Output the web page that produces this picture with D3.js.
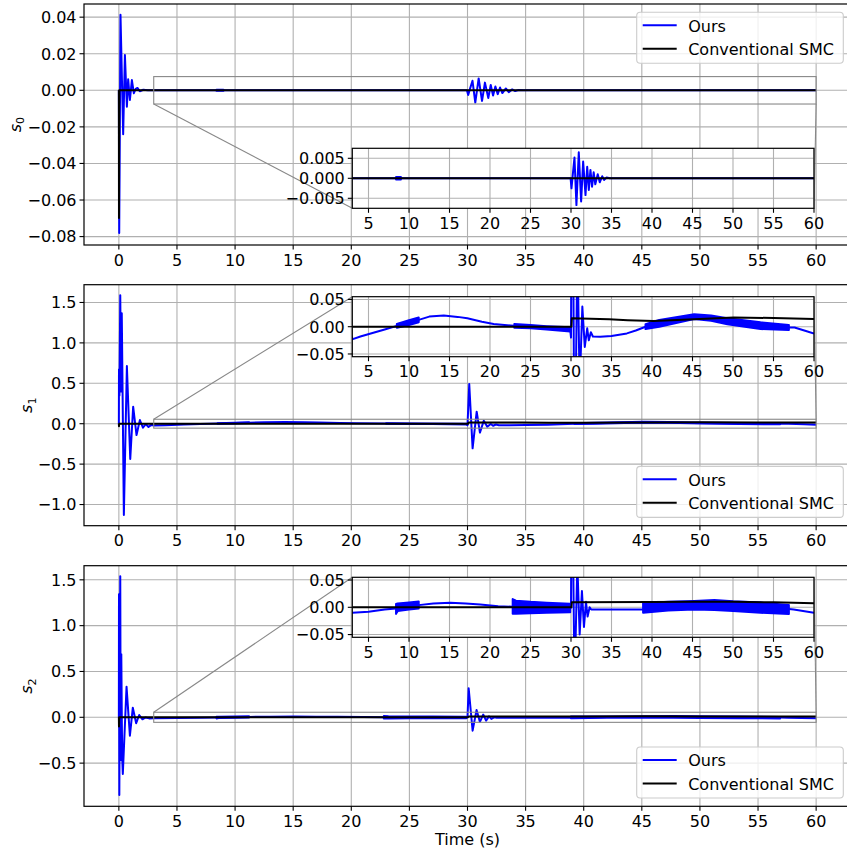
<!DOCTYPE html>
<html><head><meta charset="utf-8">
<script src="https://cdn.jsdelivr.net/npm/d3@7"></script>
<style>body{margin:0;background:#fff}svg{display:block;font-family:"DejaVu Sans",sans-serif}</style>
</head><body><svg id="c" width="847" height="853"></svg>
<script>
// ---------- data ----------
const seriesNames = ["Ours", "Conventional SMC"];
const xTicksMain = [0,5,10,15,20,25,30,35,40,45,50,55,60];
const xTicksInset = [5,10,15,20,25,30,35,40,45,50,55,60];
const yTicks0 = [-0.08,-0.06,-0.04,-0.02,0,0.02,0.04];
const yTicks1 = [-1.0,-0.5,0,0.5,1.0,1.5];
const yTicks2 = [-0.5,0,0.5,1.0,1.5];
const yTicksInset0 = [-0.005,0,0.005];
const yTicksInset1 = [-0.05,0,0.05];
const yTicksInset2 = [-0.05,0,0.05];
const yLabelSubs = ["0","1","2"];
const xLabel = "Time (s)";

// s0
const ours0 = [[0,0],[0.03,-0.078],[0.14,0.0413],[0.37,-0.024],[0.52,0.0193],[0.69,-0.009],[0.8,0.006],[0.95,-0.0053],[1.12,0.0056],[1.29,-0.0016],[1.45,0.0008],[1.6,0.0013],[1.8,-0.0005],[2.1,0.0003],[2.5,0],[29.95,0],[30.06,-0.0025],[30.2,0.0005],[30.43,0.0052],[30.67,-0.0067],[30.96,0.0065],[31.25,-0.0058],[31.5,0.0042],[31.79,-0.0042],[32.0,0.0029],[32.2,-0.0029],[32.4,0.0021],[32.6,-0.0021],[32.8,0.0015],[33.0,-0.0015],[33.3,0.001],[33.55,-0.001],[33.85,0.0005],[34.1,-0.0004],[34.4,0.0002],[34.8,0],[60,0]];
const smc0 = [[0,0],[0.01,-0.0698],[0.03,0],[60,0]];
const chatter0 = [[[8.4,-0.0003,0.0003],[9.0,-0.0003,0.0003]]];

// s1
const ours1 = [[0,0],[0.01,0.67],[0.05,0.35],[0.12,1.59],[0.19,0.4],[0.25,1.366],[0.43,-1.13],[0.69,0.714],[0.98,-0.437],[1.23,0.21],[1.52,-0.14],[1.81,0.046],[2.07,-0.05],[2.32,-0.005],[2.55,-0.04],[2.8,-0.015],[3.07,-0.0228],[4,-0.018],[5.6,-0.011],[7,-0.005],[8.5,0.0015],[10,0.0075],[11.2,0.0125],[12.5,0.0185],[14.3,0.0204],[16,0.018],[17.2,0.0155],[19,0.009],[20.45,0.005],[22.9,0.0018],[25,0],[27,-0.002],[29.9,-0.005],[30.0,-0.02],[30.15,0.49],[30.44,-0.305],[30.79,0.149],[31.07,-0.11],[31.4,0.037],[31.7,-0.037],[32.0,-0.003],[32.2,-0.025],[32.45,-0.01],[32.7,-0.018],[33.6,-0.0185],[35,-0.017],[36.9,-0.0123],[38,-0.007],[39.2,0.0],[40.9,0.006],[43,0.013],[45.2,0.0187],[47.3,0.0157],[49.3,0.01],[51.5,0.006],[53.4,0.002],[55,0.0005],[56.9,-0.0015],[57.6,-0.0015],[59,-0.008],[60,-0.0127]];
const smc1 = [[0,0],[0.01,-0.03],[0.03,0],[30.05,0],[30.1,0.0155],[34.7,0.0136],[37,0.012],[40.2,0.0105],[45.2,0.0136],[50.1,0.0167],[55,0.016],[60,0.0142]];
const chatter1 = [
  [[8.5,-0.002,0.005],[10,0.003,0.012],[11.2,0.008,0.0167]],
  [[23,-0.002,0.005],[25,-0.003,0.003],[27,-0.005,0.001],[29.9,-0.009,-0.001]],
  [[39.2,-0.0043,0.0045],[40.9,0,0.0124],[45.2,0.0143,0.023],[47.3,0.0107,0.0206],[49.3,0.0045,0.0155],[53.4,-0.0043,0.008],[56.9,-0.0062,0.0031]]
];

// s2
const ours2 = [[0,0],[0.01,1.342],[0.04,-0.848],[0.12,1.54],[0.16,-0.466],[0.21,0.687],[0.26,-0.1],[0.29,-0.45],[0.34,-0.618],[0.66,0.334],[0.95,-0.2],[1.2,0.105],[1.49,-0.065],[1.75,0.025],[2.03,-0.022],[2.3,-0.002],[2.6,-0.012],[3,-0.01],[5,-0.008],[7,-0.004],[8.4,-0.002],[9.5,0.001],[11.2,0.004],[13,0.007],[15.1,0.0085],[17,0.007],[18.8,0.005],[21,0.002],[22.8,0.001],[26,-0.001],[29.9,-0.002],[30.0,0.0],[30.1,0.316],[30.44,-0.146],[30.78,0.08],[31.07,-0.05],[31.35,0.03],[31.6,-0.036],[31.85,0.01],[32.05,-0.017],[32.3,0.0],[32.5,-0.004],[38.9,-0.004],[42,0.002],[45.2,0.004],[47.7,0.004],[50,0.002],[53.4,-0.001],[56.9,-0.003],[57.5,-0.004],[60,-0.01]];
const smc2 = [[0,0],[0.01,-0.1],[0.03,0],[30.05,0],[30.1,0.0093],[40,0.0098],[45.2,0.0104],[50,0.01],[55,0.0092],[60,0.0074]];
const chatter2 = [
  [[8.4,-0.012,0.006],[8.6,-0.007,0.007],[10,-0.004,0.009],[11.2,-0.002,0.0105]],
  [[22.8,-0.012,0.015],[23.2,-0.012,0.012],[25,-0.011,0.01],[27,-0.01,0.0085],[29.9,-0.009,0.0065]],
  [[38.9,-0.01,0.0074],[42,-0.006,0.01],[45.2,-0.004,0.0117],[47.7,-0.005,0.0136],[50,-0.007,0.011],[53.4,-0.01,0.0086],[56.9,-0.0123,0.0043]]
];

// ---------- layout ----------
const BLUE = "#0000ff", BLACK = "#000000", GRID = "#b0b0b0";
const FS = 16;
const AX_L = 84, AX_R = 851;
const INS_L = 352.3, INS_R = 814;
const panels = [
  {top:4, bottom:245, ydom:[-0.0846,0.0472], yt:yTicks0, dec:2, ours:ours0, smc:smc0, chat:chatter0,
   inset:{top:148.3,bottom:208.3,ydom:[-0.0075,0.0075],yt:yTicksInset0,dec:3}, conn:"bottom", legend:"top", ylabX:20.7},
  {top:284.7, bottom:525.7, ydom:[-1.262,1.72], yt:yTicks1, dec:1, ours:ours1, smc:smc1, chat:chatter1,
   inset:{top:296.7,bottom:356.7,ydom:[-0.055,0.055],yt:yTicksInset1,dec:2}, conn:"top", legend:"bottom", ylabX:32},
  {top:565.7, bottom:806.3, ydom:[-0.971,1.654], yt:yTicks2, dec:1, ours:ours2, smc:smc2, chat:chatter2,
   inset:{top:577.3,bottom:637.3,ydom:[-0.055,0.055],yt:yTicksInset2,dec:2}, conn:"top", legend:"bottom", ylabX:32}
];

const svg = d3.select("#c");
const defs = svg.append("defs");
const fmt = (v, d) => { const s = Math.abs(v).toFixed(d); return (v < -1e-12 ? "\u2212" : "") + s; };

function drawAxes(g, id, x, y, L, R, T, B, xt, yt, dec, ours, smc, chat) {
  defs.append("clipPath").attr("id", id).append("rect")
    .attr("x", L).attr("y", T).attr("width", R - L).attr("height", B - T);
  g.append("rect").attr("x", L).attr("y", T).attr("width", R - L).attr("height", B - T).attr("fill", "#fff");
  const grid = g.append("g").attr("stroke", GRID).attr("stroke-width", 1.1);
  xt.forEach(t => grid.append("line").attr("x1", x(t)).attr("x2", x(t)).attr("y1", T).attr("y2", B));
  yt.forEach(t => grid.append("line").attr("y1", y(t)).attr("y2", y(t)).attr("x1", L).attr("x2", R));
  const plot = g.append("g").attr("clip-path", `url(#${id})`);
  const line = d3.line().x(d => x(d[0])).y(d => y(d[1]));
  const area = d3.area().x(d => x(d[0])).y0(d => y(d[1])).y1(d => y(d[2]));
  chat.forEach(seg => plot.append("path").attr("d", area(seg)).attr("fill", BLUE)
    .attr("stroke", BLUE).attr("stroke-width", 2).attr("stroke-linejoin", "round"));
  plot.append("path").attr("d", line(ours)).attr("fill", "none").attr("stroke", BLUE)
    .attr("stroke-width", 2).attr("stroke-linejoin", "round");
  plot.append("path").attr("d", line(smc)).attr("fill", "none").attr("stroke", BLACK)
    .attr("stroke-width", 2).attr("stroke-linejoin", "round");
  // spines
  const sp = g.append("g").attr("stroke", "#000").attr("stroke-width", 1.2).attr("fill", "none");
  sp.append("rect").attr("x", L).attr("y", T).attr("width", R - L).attr("height", B - T);
  // ticks
  const tk = g.append("g").attr("stroke", "#000").attr("stroke-width", 1.1);
  const tx = g.append("g").attr("font-size", FS).attr("fill", "#000");
  xt.forEach(t => {
    tk.append("line").attr("x1", x(t)).attr("x2", x(t)).attr("y1", B).attr("y2", B + 4.5);
    tx.append("text").attr("x", x(t)).attr("y", B + 20.5).attr("text-anchor", "middle").text(t);
  });
  yt.forEach(t => {
    tk.append("line").attr("y1", y(t)).attr("y2", y(t)).attr("x1", L).attr("x2", L - 4.5);
    tx.append("text").attr("x", L - 7.5).attr("y", y(t) + 5.8).attr("text-anchor", "end").text(fmt(t, dec));
  });
}

panels.forEach((p, i) => {
  const g = svg.append("g");
  const x = d3.scaleLinear().domain([-3, 63]).range([AX_L, AX_R]);
  const y = d3.scaleLinear().domain(p.ydom).range([p.bottom, p.top]);
  drawAxes(g, "clipM" + i, x, y, AX_L, AX_R, p.top, p.bottom, xTicksMain, p.yt, p.dec, p.ours, p.smc, p.chat);

  // y label
  const yl = g.append("text").attr("transform", `translate(${p.ylabX},${(p.top + p.bottom) / 2}) rotate(-90)`)
    .attr("text-anchor", "middle").attr("font-size", FS);
  yl.append("tspan").attr("font-style", "italic").text("s");
  yl.append("tspan").attr("font-size", 11.2).attr("dy", 3.5).text(yLabelSubs[i]);

  // zoom indicator
  const ins = p.inset;
  const rx0 = x(3), rx1 = x(60), ry0 = y(ins.ydom[1]), ry1 = y(ins.ydom[0]);
  const ind = g.append("g").attr("stroke", "#888").attr("stroke-width", 1.1).attr("fill", "none");
  ind.append("rect").attr("x", rx0).attr("y", ry0).attr("width", rx1 - rx0).attr("height", ry1 - ry0);
  if (p.conn === "bottom") {
    ind.append("line").attr("x1", rx0).attr("y1", ry1).attr("x2", INS_L).attr("y2", ins.bottom);
    ind.append("line").attr("x1", rx1).attr("y1", ry1).attr("x2", INS_R).attr("y2", ins.bottom);
  } else {
    ind.append("line").attr("x1", rx0).attr("y1", ry0).attr("x2", INS_L).attr("y2", ins.top);
    ind.append("line").attr("x1", rx1).attr("y1", ry0).attr("x2", INS_R).attr("y2", ins.top);
  }

  // inset
  const gi = svg.append("g");
  const xi = d3.scaleLinear().domain([3, 60]).range([INS_L, INS_R]);
  const yi = d3.scaleLinear().domain(ins.ydom).range([ins.bottom, ins.top]);
  drawAxes(gi, "clipI" + i, xi, yi, INS_L, INS_R, ins.top, ins.bottom, xTicksInset, ins.yt, ins.dec, p.ours, p.smc, p.chat);

  // legend
  const lw = 206.6, lh = 51;
  const lx = 636.7;
  const ly = p.legend === "top" ? p.top + 8.3 : p.bottom - 8.3 - lh;
  const lg = svg.append("g");
  lg.append("rect").attr("x", lx).attr("y", ly).attr("width", lw).attr("height", lh).attr("rx", 3.5)
    .attr("fill", "#fff").attr("fill-opacity", 0.8).attr("stroke", "#cccccc").attr("stroke-width", 1.1);
  [BLUE, BLACK].forEach((c, k) => {
    const by = ly + 19.4 + k * 23.5;
    lg.append("line").attr("x1", lx + 6).attr("x2", lx + 40).attr("y1", by - 6.5).attr("y2", by - 6.5)
      .attr("stroke", c).attr("stroke-width", 2);
    lg.append("text").attr("x", lx + 51.5).attr("y", by).attr("font-size", FS).text(seriesNames[k]);
  });
});

svg.append("text").attr("x", (AX_L + AX_R) / 2).attr("y", 844.5).attr("text-anchor", "middle")
  .attr("font-size", FS).text(xLabel);
</script></body></html>
